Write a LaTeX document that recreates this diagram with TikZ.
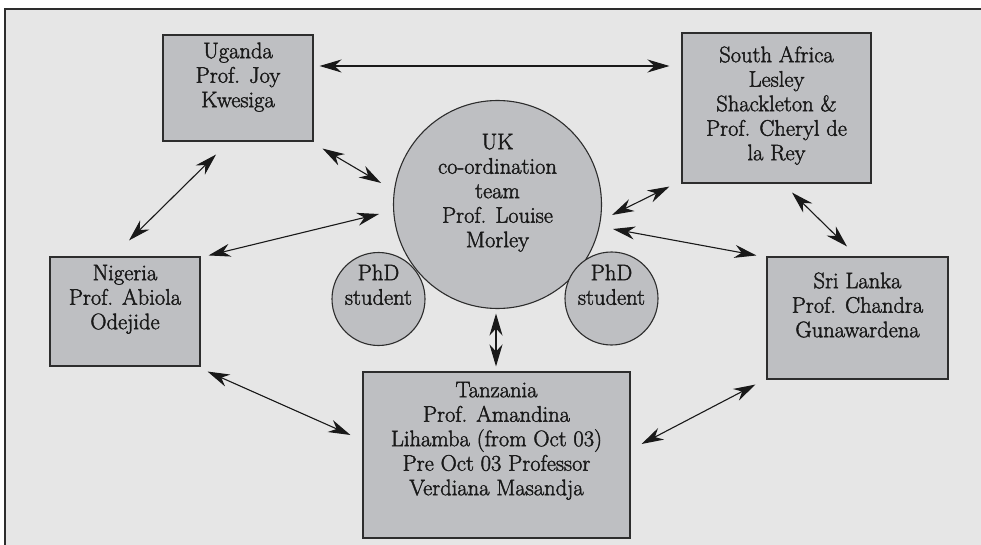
\documentclass[tikz,border=0pt]{standalone}
\usepackage{fontspec}
\newfontfamily\lblfont{Latin Modern Roman}[FakeBold=1.8]
\usetikzlibrary{calc,arrows.meta}
\definecolor{bgc}{RGB}{230,230,230}
\definecolor{boxc}{RGB}{190,191,194}
\definecolor{linec}{RGB}{45,45,45}
\definecolor{txtc}{RGB}{25,25,25}
\tikzset{
  box/.style={draw=linec,line width=1.1pt,fill=boxc,rectangle,inner sep=0pt},
  rnd/.style={draw=linec,line width=1.1pt,fill=boxc,circle,inner sep=0pt},
  lbl/.style={anchor=north,align=center,inner sep=0pt,text=txtc,font=\lblfont\fontsize{22.5}{24.5}\selectfont},
  arr/.style={draw=black!90,line width=1.1pt,{Stealth[length=22pt,width=13pt,inset=7pt]}-{Stealth[length=22pt,width=13pt,inset=7pt]}}
}
\begin{document}
\begin{tikzpicture}[x=1pt,y=-1pt]
\useasboundingbox (0,0) rectangle (981,545);
\fill[white] (0,0) rectangle (981,545);
\fill[bgc] (5,9) rectangle (981,545);
\draw[linec,line width=2.2pt] (5,546) -- (5,9) -- (982,9);
% nodes
\node[box,minimum width=150pt,minimum height=106pt] (uganda) at (238,88) {};
\node[box,minimum width=189pt,minimum height=150pt] (safrica) at (776.5,108) {};
\node[box,minimum width=150pt,minimum height=109pt] (nigeria) at (125,311.5) {};
\node[box,minimum width=181pt,minimum height=122pt] (srilanka) at (857.5,318) {};
\node[box,minimum width=267pt,minimum height=166pt] (tanzania) at (496.5,455) {};
\node[rnd,minimum size=208pt] (uk) at (497.5,204.5) {};
\node[rnd,minimum size=93pt] (phdl) at (378.5,299) {};
\node[rnd,minimum size=93pt] (phdr) at (611.5,298.5) {};
% labels
\node[lbl] (tuganda) at (238,40.85) {\strut Uganda\\Prof. Joy\\Kwesiga};
\node[lbl] (tsafrica) at (776.5,44.85) {\strut South Africa\\Lesley\\Shackleton \&\\Prof. Cheryl de\\la Rey};
\node[lbl] (tnigeria) at (125,262.85) {\strut Nigeria\\Prof. Abiola\\Odejide};
\node[lbl] (tsrilanka) at (857.5,270.85) {\strut Sri Lanka\\Prof. Chandra\\Gunawardena};
\node[lbl] (ttanzania) at (496.5,379.85) {\strut Tanzania\\Prof. Amandina\\Lihamba (from Oct 03)\\Pre Oct 03 Professor\\Verdiana Masandja};
\node[lbl] (tuk) at (497.5,131.85) {\strut UK\\co-ordination\\team\\Prof. Louise\\Morley};
\node[lbl] (tphdl) at (378.5,262.85) {\strut PhD\\student};
\node[lbl] (tphdr) at (611.5,262.85) {\strut PhD\\student};
% connectors
\draw[arr] ($(uganda.east)+(6,-22)$) -- ($(safrica.west)+(-12,-42)$);
\draw[arr] ($(uganda.south east)+(9,7)$) -- ($(uk.center)+(-116.5,-21.5)$);
\draw[arr] ($(uganda.south)+(-22,13)$) -- ($(nigeria.north)+(4,-16)$);
\draw[arr] ($(nigeria.north east)+(8,-1)$) -- ($(uk.center)+(-118.5,9.5)$);
\draw[arr] ($(safrica.south west)+(-12,3)$) -- ($(uk.center)+(114.5,10.5)$);
\draw[arr] ($(safrica.south)+(15.5,9)$) -- ($(srilanka.north)+(-10.5,-10)$);
\draw[arr] ($(uk.center)+(115.5,24.5)$) -- ($(srilanka.north west)+(-10,-1)$);
\draw[arr] ($(uk.south)+(-1.5,4.5)$) -- ($(tanzania.north)+(-0.5,-5)$);
\draw[arr] ($(nigeria.south east)+(7,5)$) -- ($(tanzania.west)+(-12,-20)$);
\draw[arr] ($(tanzania.east)+(11,-11)$) -- ($(srilanka.south west)+(-11,5)$);
\end{tikzpicture}
\end{document}
